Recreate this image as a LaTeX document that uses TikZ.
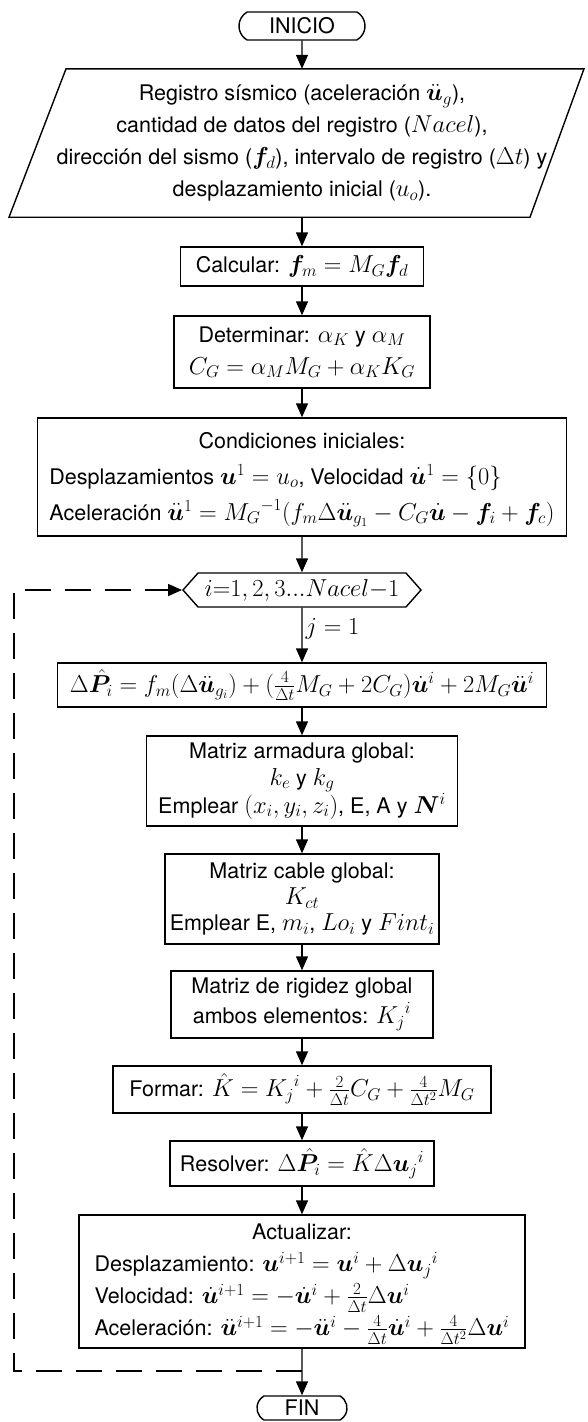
\RequirePackage{fix-cm}
\documentclass[tikz,border=0pt]{standalone}
\usepackage{amsmath,amssymb}
\usepackage{bm}
\usepackage[no-math]{fontspec}
\setmainfont{TeX Gyre Heros}
\DeclareMathSizes{21.5}{24.5}{17}{12.5}
\usetikzlibrary{arrows.meta,shapes.misc,shapes.symbols,calc}
\newcommand{\fsz}[1]{\fontsize{21.5}{#1}\selectfont}
\begin{document}
\begin{tikzpicture}[x=1pt,y=-1pt,
  every node/.style={font=\fsz{32}},
  box/.style={draw,line width=1.4pt,align=center,inner sep=1pt},
  term/.style={draw,line width=1.4pt,rounded rectangle,rounded rectangle arc length=120,inner sep=0pt},
  arr/.style={line width=1.4pt,-{Triangle[length=14pt,width=12pt]}},
  loopline/.style={line width=1.4pt,dash pattern=on 26pt off 14pt,-{Triangle[length=14pt,width=12pt]}}]
\useasboundingbox (0,0) rectangle (588,1422);

\node[term,minimum width=126pt,minimum height=28pt] (ini) at (302,26) {INICIO};

\node[align=center,inner sep=0pt,minimum height=148pt] (par) at (302,143)
 {Registro sísmico (aceleración $\ddot{\bm u}_g$),\\
  cantidad de datos del registro ($Nacel$),\\
  dirección del sismo ($\bm f_d$), intervalo de registro ($\Delta t$) y\\
  desplazamiento inicial ($u_o$).};
\draw[line width=1.4pt] ($(par.north)+(-236,0)$) -- ($(par.north)+(282,0)$)
  -- ($(par.south)+(228,0)$) -- ($(par.south)+(-293,0)$) -- cycle;

\node[box,minimum width=243pt,minimum height=39pt] (calc) at (302,266.5) {Calcular: $\bm f_m = M_G\bm f_d$};

\node[box,minimum width=256pt,minimum height=72pt] (det) at (302,352)
 {Determinar: $\alpha_K$ y $\alpha_M$\\ $C_G = \alpha_M M_G + \alpha_K K_G$};

\node[box,minimum width=529pt,minimum height=118pt,font=\fsz{36}] (cond) at (302,477)
 {\begin{tabular}{@{}l@{}}
  \multicolumn{1}{c}{Condiciones iniciales:}\\
  Desplazamientos $\bm u^1 = u_o$, Velocidad $\dot{\bm u}^1 = \{0\}$\\
  Aceleración $\ddot{\bm u}^1 = {M_G}^{-1}(f_m\Delta\ddot{\bm u}_{g_1} - C_G\dot{\bm u} - \bm f_i + \bm f_c)$
  \end{tabular}};

\node[draw,line width=1.4pt,signal,signal to=west and east,signal pointer angle=97,
  minimum width=238pt,minimum height=34pt,inner sep=1pt] (hex) at (302,590)
 {$i{=}1,2,3...Nacel{-}1$};

\node[box,minimum width=489pt,minimum height=44pt] (dp) at (302,685)
 {$\Delta\hat{\bm P}_i = f_m(\Delta\ddot{\bm u}_{g_i}) + (\frac{4}{\Delta t}M_G + 2C_G)\dot{\bm u}^i + 2M_G\ddot{\bm u}^i$};

\node[box,minimum width=311pt,minimum height=90pt,font=\fsz{27}] (arm) at (302,781)
 {Matriz armadura global:\\ $k_e$ y $k_g$\\ Emplear $(x_i,y_i,z_i)$, E, A y $\bm N^i$};

\node[box,minimum width=274pt,minimum height=90pt,inner sep=0pt,font=\fsz{26}] (cab) at (302,899)
 {Matriz cable global:\\ $K_{ct}$\\ Emplear E, $m_i$, $Lo_i$ y $Fint_i$};

\node[box,minimum width=262pt,minimum height=67pt,font=\fsz{30}] (rig) at (302,1004.5)
 {Matriz de rigidez global\\ ambos elementos: ${K_j}^i$};

\node[box,minimum width=378pt,minimum height=47pt] (form) at (302,1089.5)
 {Formar: $\hat K = {K_j}^i + \frac{2}{\Delta t}C_G + \frac{4}{\Delta t^2}M_G$};

\node[box,minimum width=264pt,minimum height=45pt] (res) at (302,1163.5)
 {Resolver: $\Delta\hat{\bm P}_i = \hat K\Delta{\bm u_j}^i$};

\node[box,minimum width=446pt,minimum height=133pt,font=\fsz{32}] (act) at (302,1281.5)
 {\begin{tabular}{@{}l@{}}
  \multicolumn{1}{c}{Actualizar:}\\
  Desplazamiento: $\bm u^{i+1} = \bm u^i + \Delta{\bm u_j}^i$\\
  Velocidad: $\dot{\bm u}^{i+1} = -\dot{\bm u}^i + \frac{2}{\Delta t}\Delta\bm u^i$\\
  Aceleración: $\ddot{\bm u}^{i+1} = -\ddot{\bm u}^i - \frac{4}{\Delta t}\dot{\bm u}^i + \frac{4}{\Delta t^2}\Delta\bm u^i$
  \end{tabular}};

\node[term,minimum width=90pt,minimum height=24pt] (fin) at (302,1408) {FIN};

\draw[arr] (ini) -- (par);
\draw[arr] (par) -- (calc);
\draw[arr] (calc) -- (det);
\draw[arr] (det) -- (cond);
\draw[arr] (cond) -- (hex);
\draw[arr] (hex) -- node[right,pos=0.38,inner sep=3pt] {$j=1$} (dp);
\draw[arr] (dp) -- (arm);
\draw[arr] (arm) -- (cab);
\draw[arr] (cab) -- (rig);
\draw[arr] (rig) -- (form);
\draw[arr] (form) -- (res);
\draw[arr] (res) -- (act);
\draw[arr] (act) -- (fin);

\coordinate (jn) at (302,1371);
\coordinate (lc) at (14,1371);
\draw[loopline] (jn) -- (lc) |- (hex.west);
\end{tikzpicture}
\end{document}
